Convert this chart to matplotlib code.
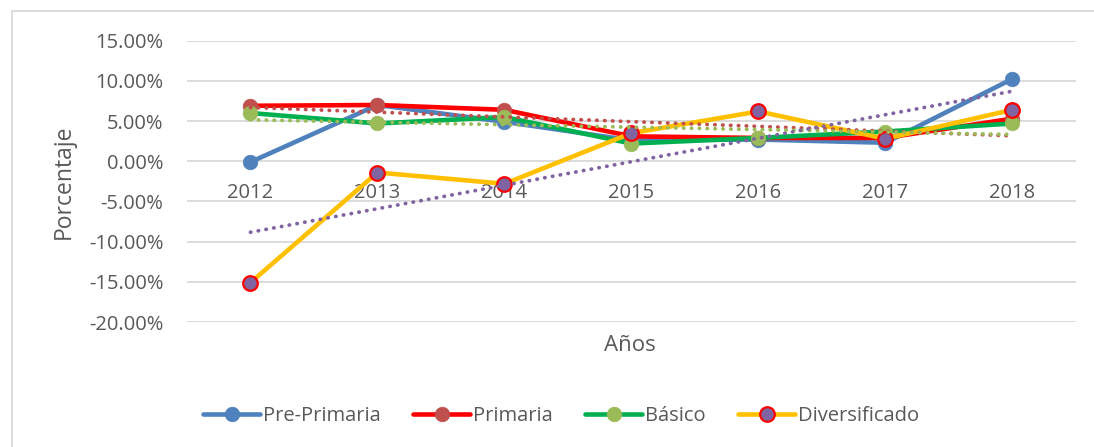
import numpy as np
import matplotlib
matplotlib.use("Agg")
import matplotlib.pyplot as plt
from matplotlib.ticker import FuncFormatter
from matplotlib.patches import Rectangle

plt.rcParams['font.family'] = ['Open Sans', 'DejaVu Sans']

# data (percent)
years = ['2012', '2013', '2014', '2015', '2016', '2017', '2018']
pre_primaria = [-0.1, 7.0, 4.9, 2.6, 2.7, 2.3, 10.25]
primaria = [6.9, 7.0, 6.4, 3.1, 2.9, 2.9, 5.3]
basico = [6.0, 4.7, 5.5, 2.2, 2.9, 3.7, 4.7]
diversificado = [-15.1, -1.4, -2.8, 3.5, 6.2, 2.8, 6.4]

y_ticks = [-20, -15, -10, -5, 0, 5, 10, 15]
grey_txt = '#595959'

fig = plt.figure(figsize=(10.94, 4.47), dpi=100)
ax = fig.add_axes([0.1709, 0.2796, 0.8126, 0.6294])

x = np.arange(len(years))

series = [
    ('Pre-Primaria', pre_primaria, '#4F81BD', '#4F81BD', '#4F81BD'),
    ('Primaria', primaria, '#FF0000', '#C0504D', '#C0504D'),
    ('Básico', basico, '#00B050', '#9BBB59', '#9BBB59'),
    ('Diversificado', diversificado, '#FFC000', '#8064A2', '#FF0000'),
]

for i, (name, vals, lc, mfc, mec) in enumerate(series):
    ax.plot(x, vals, color=lc, lw=3.3, marker='o', ms=10.5,
            mfc=mfc, mec=mec, mew=1.6 if mec != mfc else 0.5,
            label=name, zorder=3 + i, solid_capstyle='round')

# linear trendlines (Primaria, Básico, Diversificado)
trend = [(primaria, '#C0504D'), (basico, '#9BBB59'), (diversificado, '#8064A2')]
for vals, c in trend:
    k, b = np.polyfit(x, vals, 1)
    ax.plot(x, k * x + b, color=c, lw=2.7, ls=(0, (0.1, 2.0)),
            dash_capstyle='round', zorder=8)

ax.set_xlim(-0.5, len(years) - 0.5)
ax.set_ylim(-20, 15)
ax.set_yticks(y_ticks)
ax.yaxis.set_major_formatter(FuncFormatter(lambda v, p: '{:.2f}%'.format(v)))
ax.set_xticks(x)
ax.set_xticklabels(years)
ax.grid(axis='y', color='#D9D9D9', lw=1.3)
ax.set_axisbelow(True)
for s in ['top', 'right', 'left']:
    ax.spines[s].set_visible(False)
ax.spines['bottom'].set_position(('data', 0))
ax.spines['bottom'].set_visible(False)
ax.tick_params(axis='both', length=0, labelsize=14.5, colors=grey_txt)
ax.tick_params(axis='y', pad=17)
ax.tick_params(axis='x', pad=16)

fig.text(0.058, 0.594, 'Porcentaje', rotation=90, ha='center', va='center',
         fontsize=16.5, color=grey_txt)
fig.text(0.576, 0.228, 'Años', ha='center', va='center', fontsize=16, color=grey_txt)

leg = fig.legend(loc='center', bbox_to_anchor=(0.513, 0.069), ncol=4, frameon=False,
                 fontsize=14.5, handlelength=2.83, handletextpad=0.15, columnspacing=1.6,
                 labelcolor=grey_txt)

fig.patches.append(Rectangle((0.011, -0.01), 1.0, 0.985, transform=fig.transFigure,
                             fill=False, ec='#D9D9D9', lw=1.3))

fig.savefig('out.png', dpi=100)
